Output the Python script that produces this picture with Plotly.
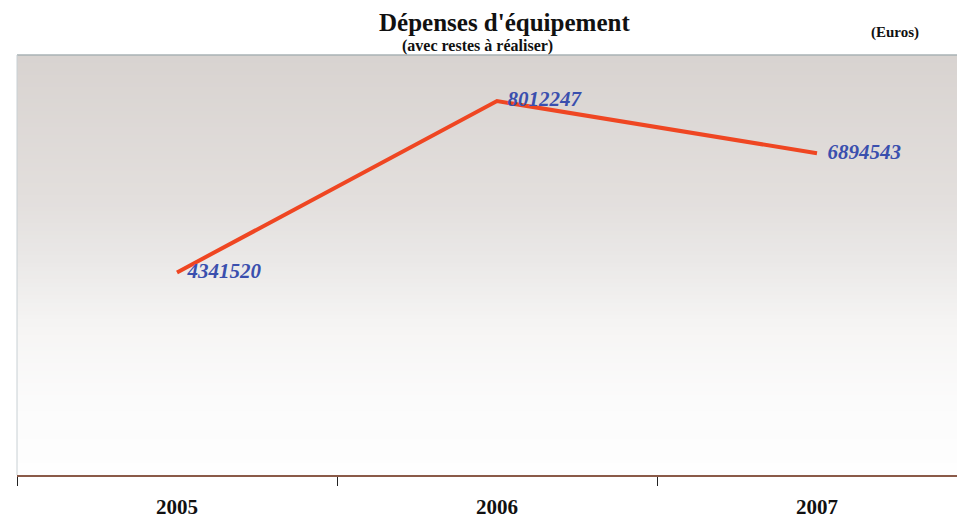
import plotly.graph_objects as go

years = ["2005", "2006", "2007"]
depenses = [4341520, 8012247, 6894543]
labels = ["4341520", "8012247", "6894543"]

W, H = 957, 520
L, T, B = 17, 55, 475

fig = go.Figure()
fig.add_trace(go.Scatter(
    x=years, y=depenses, mode="lines+text",
    line=dict(color="#ef4622", width=4),
    text=labels, texttemplate="\u00a0\u00a0%{text}", textposition="middle right",
    textfont=dict(family="Liberation Serif", size=21, color="#3a4fae", style="italic", weight="bold"),
    cliponaxis=False, hoverinfo="skip", showlegend=False,
))

# vertical gradient background (strips)
stops = [(0.0, (216, 211, 208)), (0.35, (227, 223, 221)), (0.5, (235, 233, 232)),
         (0.65, (246, 245, 244)), (0.82, (251, 251, 251)), (1.0, (254, 254, 254))]
def col(t):
    for (a, ca), (b, cb) in zip(stops[:-1], stops[1:]):
        if a <= t <= b:
            f = (t - a) / (b - a)
            return "rgb(%d,%d,%d)" % tuple(round(ca[i] + (cb[i] - ca[i]) * f) for i in range(3))
    return "rgb(254,254,254)"
shapes = []
n = 105
for i in range(n):
    y1 = 1 - i / n
    y0 = 1 - (i + 1) / n
    shapes.append(dict(type="rect", xref="paper", yref="paper", x0=0, x1=1, y0=y0, y1=y1,
                       fillcolor=col((i + 0.5) / n), line=dict(width=0), layer="below"))
shapes.append(dict(type="line", xref="paper", yref="paper", x0=0, x1=1, y0=1, y1=1,
                   line=dict(color="#a9b2b4", width=1.5)))
shapes.append(dict(type="line", xref="paper", yref="paper", x0=0, x1=0, y0=0, y1=1,
                   line=dict(color="#c8d0d4", width=1)))

plot_w = W - L
span = plot_w / 320.0

def ann(text, px, py, size):
    return dict(text=text, x=(px - L) / (W - L), y=(H - py - (H - B)) / (B - T),
                xref="paper", yref="paper", xanchor="center", yanchor="middle",
                showarrow=False,
                font=dict(family="Liberation Serif", size=size, color="#111", weight="bold"))

fig.update_layout(
    width=W, height=H,
    margin=dict(l=L, r=0, t=T, b=H - B, autoexpand=False),
    paper_bgcolor="white", plot_bgcolor="rgba(0,0,0,0)",
    shapes=shapes,
    xaxis=dict(type="category", range=[-0.5, -0.5 + span], tickson="boundaries",
               ticks="outside", ticklen=9, tickcolor="#222", tickwidth=1,
               showline=True, linecolor="#8a5a48", linewidth=2, showgrid=False,
               zeroline=False,
               tickfont=dict(family="Liberation Serif", size=21, color="#111", weight="bold"),
               ticklabelstandoff=12),
    yaxis=dict(range=[0, 9000000], showticklabels=False, showgrid=False, zeroline=False,
               showline=False, ticks=""),
    annotations=[
        ann("Dépenses d'équipement", 504, 22, 25),
        ann("(avec restes à réaliser)", 477, 46, 16),
        ann("(Euros)", 895, 33, 15),
    ],
)

fig.write_html("out.html", config={"displayModeBar": False},
               post_script="document.body.style.margin='0';document.body.style.overflow='hidden';")
